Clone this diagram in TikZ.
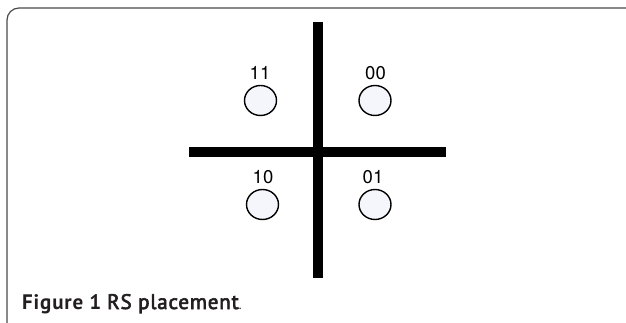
\documentclass[tikz,border=0pt]{standalone}
\usepackage{fontspec}
\setmainfont{TeX Gyre Heros}
\newfontfamily\digfont{TeX Gyre Heros}
\newfontfamily\capfont[LetterSpace=4]{PT Sans}
\newfontfamily\capmed[FakeBold=3,LetterSpace=4]{PT Sans}
\definecolor{framegray}{HTML}{4A4A4A}
\definecolor{circfill}{HTML}{F4F6FC}
\definecolor{captext}{HTML}{231F20}
\tikzset{
  rs/.style={draw=black, line width=1.4pt, fill=circfill, ellipse, minimum width=32pt, minimum height=30pt, inner sep=0pt},
  lab/.style={font=\digfont\fontsize{18.5pt}{18.5pt}\selectfont, anchor=base, inner sep=0pt},
  bar/.style={line width=10pt, black},
}
\usetikzlibrary{shapes.geometric}
\begin{document}
\begin{tikzpicture}[x=1pt, y=-1pt]
\useasboundingbox (0,0) rectangle (626,323);
\clip (0,0) rectangle (626,323);
\fill[white] (0,0) rectangle (626,323);
\draw[framegray, line width=1.2pt, rounded corners=12pt] (7,340) -- (7,8) -- (640,8);
\draw[bar] (318,22) -- (318,278);
\draw[bar] (189,152) -- (446,152);
\node[rs] (c11) at (260.5,100.5) {};
\node[rs] (c00) at (375,100.5) {};
\node[rs] (c10) at (262.5,204.5) {};
\node[rs] (c01) at (375,204.5) {};
\node[lab] (l11) at (260,79.5) {11};
\node[lab] (l00) at (375.5,80) {00};
\node[lab] (l10) at (263,184) {10};
\node[lab] (l01) at (373,184) {01};
\node[anchor=base west, inner sep=0pt, text=captext, font=\fontsize{21pt}{21pt}\selectfont] (cap) at (22,309)
  {{\capfont\bfseries Figure 1} {\capmed RS placement}{\capfont\fontsize{13pt}{13pt}\selectfont.}};
\end{tikzpicture}
\end{document}
